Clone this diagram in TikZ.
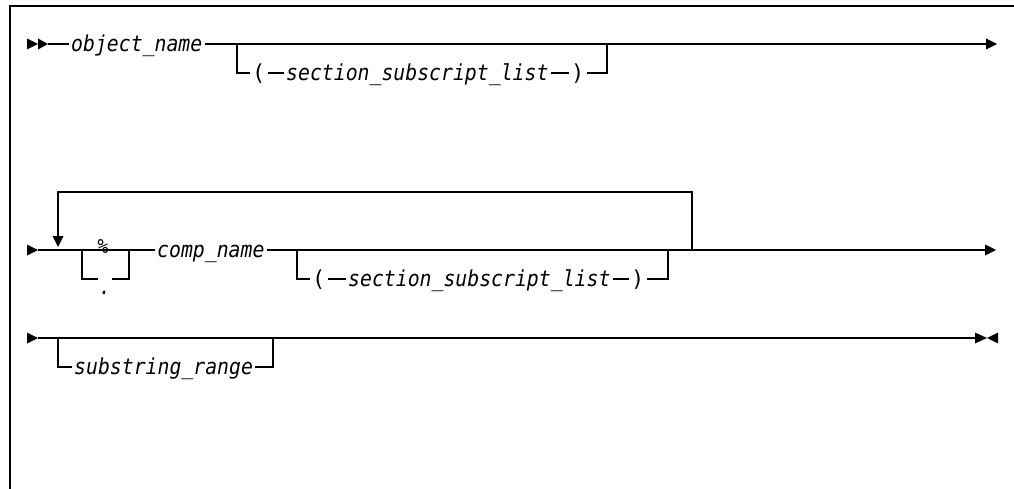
\documentclass[tikz,border=0pt]{standalone}
\usepackage{fontspec}
\newfontfamily\railfont[FakeStretch=0.9]{DejaVu Sans Mono}
\newfontfamily\parenfont{DejaVu Sans Mono}
\begin{document}
\begin{tikzpicture}[x=1pt,y=-1pt,
  rail/.style={line width=1.25pt, line join=miter},
  frame/.style={line width=1.4pt},
  term/.style={font=\railfont\itshape\fontsize{22}{23}\selectfont, inner xsep=2pt, inner ysep=0pt, text height=18pt, text depth=3pt, anchor=west},
  paren/.style={term, font=\parenfont\fontsize{22}{23}\selectfont},
  small/.style={font=\railfont\itshape\fontsize{20}{20}\selectfont, inner sep=0pt},
  tip/.style={fill=black}]
\useasboundingbox (0,0) rectangle (1014,489);
% frame
\draw[frame] (10,489) -- (10,6) -- (1014,6);

% ---------- row 1 ----------
\fill[tip] (27,38.5) -- (38,44) -- (27,49.5) -- cycle;
\fill[tip] (38,38.5) -- (48,44) -- (38,49.5) -- cycle;
\coordinate (s1) at (48,44);
\node[term] (obj) at (69,44) {object\_name};
\coordinate (b1) at (237,44);
\coordinate (e1) at (607,44);
\coordinate (end1) at (986,44);
\node[paren] (lp1) at (250,73) {(};
\node[term] (ssl1) at (284,73) {section\_subscript\_list};
\node[paren] (rp1) at (569,73) {)};
\draw[rail] (s1) -- (obj.west);
\draw[rail] (obj.east) -- (end1);
\draw[rail] (b1) |- (lp1.west);
\draw[rail] (lp1.east) -- (ssl1.west);
\draw[rail] (ssl1.east) -- (rp1.west);
\draw[rail] (rp1.east) -| (e1);
\fill[tip] (986,38.5) -- (997,44) -- (986,49.5) -- cycle;

% ---------- row 2 ----------
\fill[tip] (27,244.5) -- (38,250) -- (27,255.5) -- cycle;
\coordinate (s2) at (38,250);
\coordinate (c1) at (82,250);
\coordinate (c2) at (129,250);
\coordinate (dl) at (98,279);
\coordinate (dr) at (112,279);
\node[small] (pct) at (103,247) {\%};
\node[term, anchor=base, inner xsep=0pt] (dot) at (105,294) {.};
\node[term] (cn) at (155,250) {comp\_name};
\coordinate (b2) at (297,250);
\coordinate (e2) at (668,250);
\coordinate (lp) at (692,250);
\coordinate (lt) at (58,236);
\coordinate (end2) at (985,250);
\node[paren] (lp2) at (310,279) {(};
\node[term] (ssl2) at (346,279) {section\_subscript\_list};
\node[paren] (rp2) at (629,279) {)};
\draw[rail] (s2) -- (cn.west);
\draw[rail] (c1) |- (dl);
\draw[rail] (dr) -| (c2);
\draw[rail] (cn.east) -- (end2);
\draw[rail] (b2) |- (lp2.west);
\draw[rail] (lp2.east) -- (ssl2.west);
\draw[rail] (ssl2.east) -- (rp2.west);
\draw[rail] (rp2.east) -| (e2);
\draw[rail] (lp) -- (692,192) -- (58,192) -- (lt);
\fill[tip] (52.5,236) -- (63.5,236) -- (58,247) -- cycle;
\fill[tip] (985,244.5) -- (996,250) -- (985,255.5) -- cycle;

% ---------- row 3 ----------
\fill[tip] (27,332.5) -- (38,338) -- (27,343.5) -- cycle;
\coordinate (s3) at (38,338);
\coordinate (b3) at (58,338);
\coordinate (e3) at (273,338);
\coordinate (end3) at (975,338);
\node[term] (sr) at (72,367) {substring\_range};
\draw[rail] (s3) -- (end3);
\draw[rail] (b3) |- (sr.west);
\draw[rail] (sr.east) -| (e3);
\draw[line width=2pt] (279,338) -- (302,338);
\fill[tip] (975,332.5) -- (987,338) -- (975,343.5) -- cycle;
\fill[tip] (998,332.5) -- (987,338) -- (998,343.5) -- cycle;
\end{tikzpicture}
\end{document}
